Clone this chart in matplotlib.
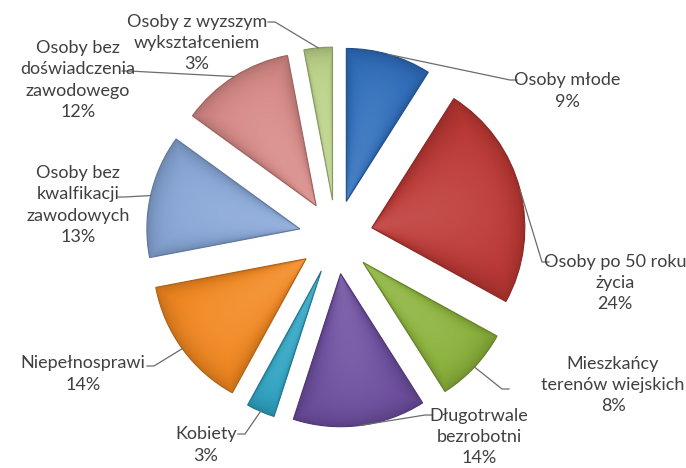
import numpy as np
import matplotlib.pyplot as plt
from matplotlib.colors import to_rgb

# dane
labels = ['Osoby młode', 'Osoby po 50 roku\nżycia', 'Mieszkańcy\nterenów wiejskich',
          'Długotrwale\nbezrobotni', 'Kobiety', 'Niepełnosprawi',
          'Osoby bez\nkwalfikacji\nzawodowych', 'Osoby bez\ndoświadczenia\nzawodowego',
          'Osoby z wyzszym\nwykształceniem']
values = [9, 24, 8, 14, 3, 14, 13, 12, 3]
colors = ['#2D6CBA', '#BC3733', '#8AB23A', '#6C4D9E', '#2DA2C1',
          '#F2871F', '#86A5D6', '#D78986', '#BAD287']

# położenie etykiet (px) i końce linii odniesienia
label_pos = [(567, 91), (615, 283), (613, 385), (479, 437), (206, 445),
             (83, 374), (78, 205), (78, 80), (197, 43)]
line_end = [(517, 80), (549, 262), (509, 389), (432, 415), (238, 434),
            (147, 366), (118, 197), (122, 71), (268, 22)]

W, H = 686, 468
cx, cy, R, expl = 336, 237, 153, 37

fig = plt.figure(figsize=(W / 100, H / 100), dpi=100)
ax = fig.add_axes([0, 0, 1, 1])

wedges, _ = ax.pie(values, colors=colors, startangle=-90, counterclock=True,
                   explode=[expl] * len(values), radius=R, center=(cx, cy),
                   wedgeprops=dict(linewidth=0.8))
ax.set_xlim(0, W)
ax.set_ylim(H, 0)
ax.set_aspect('equal')
ax.axis('off')

# cieniowanie klinów (gradient)
X, Y = np.meshgrid(np.arange(W) + 0.5, np.arange(H) + 0.5)
for w, c in zip(wedges, colors):
    base = np.array(to_rgb(c))
    w.set_edgecolor(base * 0.72)
    wx, wy = w.center
    mid = (w.theta1 + w.theta2) / 2
    half = (w.theta2 - w.theta1) / 2
    ang = np.degrees(np.arctan2(Y - wy, X - wx))
    off = (ang - mid + 180) % 360 - 180
    u = np.clip(off / half, -1, 1)
    v = np.clip(np.hypot(X - wx, Y - wy) / R, 0, 1)
    light = 0.12 * (1 - u ** 2) * (1 - v ** 3)
    dark = 0.18 * np.maximum(np.abs(u) ** 6, v ** 14)
    img = base[None, None, :] * (1 - dark[..., None]) + light[..., None] * (1 - base[None, None, :])
    img = np.clip(img, 0, 1)
    im = ax.imshow(img, extent=(0, W, H, 0), origin='upper', zorder=w.get_zorder() + 0.1,
                   interpolation='bilinear')
    im.set_clip_path(w)
    w.set_zorder(w.get_zorder() + 0.2)
    w.set_facecolor('none')

# etykiety z liniami odniesienia
for w, lab, v, (tx, ty), (ex, ey) in zip(wedges, labels, values, label_pos, line_end):
    wx, wy = w.center
    mid = np.radians((w.theta1 + w.theta2) / 2)
    ax_, ay_ = wx + R * np.cos(mid), wy + R * np.sin(mid)
    step = 7 if ex > ax_ else -7
    ax.plot([ax_, ex - step, ex], [ay_, ey, ey], color='#6b6b6b', lw=0.9, zorder=5)
    ax.text(tx, ty, f'{lab}\n{v}%', ha='center', va='center', fontsize=13,
            family='Lato', color='#404040', linespacing=1.42, zorder=6)

fig.savefig('out.png', dpi=100)
